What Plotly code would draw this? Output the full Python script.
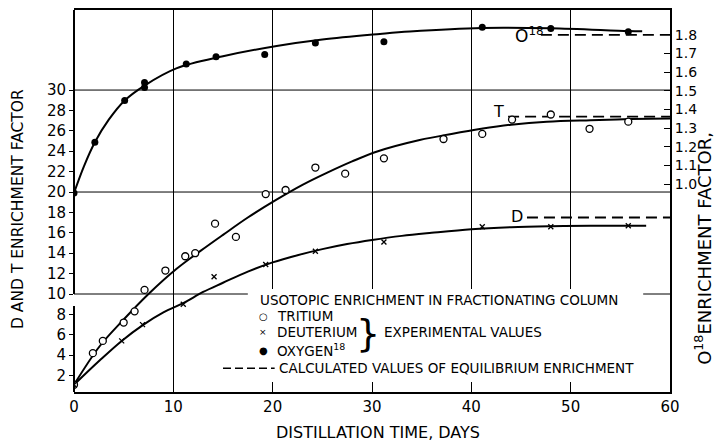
import plotly.graph_objects as go

# ---------------- data ----------------
# Tritium (open circles), left axis
t_days = [0, 1.9, 2.9, 5.0, 6.1, 7.1, 9.2, 11.2, 12.2, 14.2, 16.3, 19.3, 21.3, 24.3, 27.3, 31.2,
          37.2, 41.1, 44.1, 48.0, 51.9, 55.8]
t_vals = [1.1, 4.2, 5.4, 7.2, 8.3, 10.4, 12.3, 13.7, 14.0, 16.9, 15.6, 19.8, 20.2, 22.4, 21.8, 23.3,
          25.2, 25.7, 27.1, 27.6, 26.2, 26.9]
# Tritium fitted curve
t_fit_days = [0, 2.6, 5, 7.5, 10.3, 12.7, 15, 17.5, 20.3, 23, 25.5, 28, 30.6, 34.8, 38, 41, 44, 47.6, 52, 56, 60]
t_fit_vals = [1.1, 4.9, 7.5, 10.0, 12.45, 14.2, 15.8, 17.5, 19.2, 20.7, 21.9, 23.0, 24.0, 25.1, 25.7,
              26.2, 26.6, 26.9, 27.05, 27.15, 27.2]

# Deuterium (crosses), left axis
d_days = [0, 4.8, 6.9, 11.0, 14.1, 19.3, 24.3, 31.2, 41.1, 48.0, 55.8]
d_vals = [1.1, 5.4, 7.0, 9.0, 11.7, 12.9, 14.2, 15.1, 16.6, 16.6, 16.7]
# Deuterium fitted curve
d_fit_days = [0, 2.6, 4.8, 7, 9, 11, 13, 15, 17.5, 20, 22.5, 25, 27.5, 30, 33, 36, 40, 44, 48, 52, 57.6]
d_fit_vals = [1.1, 3.5, 5.4, 7.0, 8.2, 9.1, 10.2, 11.1, 12.2, 13.1, 13.8, 14.4, 14.9, 15.3, 15.7, 16.0,
              16.35, 16.55, 16.65, 16.7, 16.7]

# Oxygen-18 (filled circles), right axis
o_days = [0, 2.1, 5.1, 7.1, 7.1, 11.3, 14.3, 19.2, 24.3, 31.2, 41.1, 48.0, 55.8]
o_vals = [0.952, 1.224, 1.448, 1.544, 1.517, 1.644, 1.683, 1.695, 1.756, 1.763, 1.841, 1.834, 1.816]
# Oxygen-18 fitted curve
o_fit_days = [0, 1, 2.1, 3.5, 5.1, 7.1, 10.3, 15, 20.4, 25, 30.8, 33.8, 41.1, 48, 55.8, 57.2]
o_fit_vals = [0.952, 1.095, 1.224, 1.345, 1.448, 1.528, 1.62, 1.685, 1.74, 1.775, 1.805, 1.818, 1.837,
              1.835, 1.82, 1.819]

# Calculated equilibrium enrichment (dashed)
eq_t_days = [43.7, 60]
eq_t_vals = [27.4, 27.4]
eq_d_days = [45.6, 60]
eq_d_vals = [17.5, 17.5]
eq_o_days = [47.0, 60]
eq_o_vals = [1.8, 1.8]

# axes ticks
x_ticks = [0, 10, 20, 30, 40, 50, 60]
left_ticks = [2, 4, 6, 8, 10, 12, 14, 16, 18, 20, 22, 24, 26, 28, 30]
right_ticks = [1.0, 1.1, 1.2, 1.3, 1.4, 1.5, 1.6, 1.7, 1.8]
grid_left = [10, 20, 30]

FONT = "DejaVu Sans"
DASH = "11px,6px"

fig = go.Figure()

# fitted curves
fig.add_trace(go.Scatter(x=t_fit_days, y=t_fit_vals, mode="lines", line=dict(color="black", width=2, shape="spline")))
fig.add_trace(go.Scatter(x=d_fit_days, y=d_fit_vals, mode="lines", line=dict(color="black", width=2, shape="spline")))
fig.add_trace(go.Scatter(x=o_fit_days, y=o_fit_vals, mode="lines", yaxis="y2",
                         line=dict(color="black", width=2, shape="spline")))
# equilibrium lines
fig.add_trace(go.Scatter(x=eq_t_days, y=eq_t_vals, mode="lines", line=dict(color="black", width=1.8, dash=DASH)))
fig.add_trace(go.Scatter(x=eq_d_days, y=eq_d_vals, mode="lines", line=dict(color="black", width=1.8, dash=DASH)))
fig.add_trace(go.Scatter(x=eq_o_days, y=eq_o_vals, mode="lines", yaxis="y2",
                         line=dict(color="black", width=1.8, dash=DASH)))
# points
fig.add_trace(go.Scatter(x=t_days, y=t_vals, mode="markers",
                         marker=dict(symbol="circle", size=7, color="white", line=dict(color="black", width=1.3))))
fig.add_trace(go.Scatter(x=d_days, y=d_vals, mode="markers",
                         marker=dict(symbol="x-thin", size=5, color="black", line=dict(color="black", width=1.3))))
fig.add_trace(go.Scatter(x=o_days, y=o_vals, mode="markers", yaxis="y2",
                         marker=dict(symbol="circle", size=7, color="black")))
# legend dashed sample
fig.add_trace(go.Scatter(x=[15.0, 20.2], y=[2.73, 2.73], mode="lines",
                         line=dict(color="black", width=1.5, dash="8px,4px")))

shapes = []
for g in grid_left:
    shapes.append(dict(type="line", xref="paper", yref="y", x0=0, x1=1, y0=g, y1=g,
                       line=dict(color="black", width=1), layer="between"))
# white legend area
shapes.append(dict(type="rect", xref="x", yref="y", x0=17.5, x1=57.3, y0=1.37, y1=10.5,
                   fillcolor="white", line=dict(width=0), layer="between"))
# left axis line with break
shapes.append(dict(type="line", xref="paper", yref="paper", x0=0, x1=0, y0=0, y1=0.225,
                   line=dict(color="black", width=2)))
shapes.append(dict(type="line", xref="paper", yref="y", x0=0, x1=0, y0=10, y1=37.85,
                   line=dict(color="black", width=2)))

ann = []
def txt(x, y, s, size=11, xanchor="left", yanchor="middle", xref="x", yref="y", angle=0):
    ann.append(dict(x=x, y=y, text=s, xref=xref, yref=yref, showarrow=False, xanchor=xanchor,
                    yanchor=yanchor, textangle=angle, font=dict(family=FONT, size=size, color="black")))

LG = 13.5
txt(18.5, 9.37, "USOTOPIC ENRICHMENT IN FRACTIONATING COLUMN", LG)
txt(18.4, 7.8, "○", 10)
txt(20.2, 7.8, "TRITIUM", LG)
txt(18.4, 6.24, "×", 9)
txt(20.2, 6.24, "DEUTERIUM", LG)
txt(18.4, 4.49, "●", 10)
txt(20.2, 4.49, "OXYGEN<sup>18</sup>", LG)
txt(29.6, 6.15, "}", 38, xanchor="center")
txt(31.0, 6.24, "EXPERIMENTAL VALUES", LG)
txt(20.4, 2.73, "CALCULATED VALUES OF EQUILIBRIUM ENRICHMENT", LG)
# curve labels
txt(45.9, 35.4, "O<sup>18</sup>", 17, xanchor="center")
txt(42.7, 27.9, "T", 16, xanchor="center")
txt(44.6, 17.6, "D", 16, xanchor="center")
# axis titles
txt(-0.094, 0.479, "D AND T ENRICHMENT FACTOR", 15.5, xanchor="center", xref="paper", yref="paper", angle=-90)
txt(1.0555, 0.375, "O<sup>18</sup>ENRICHMENT FACTOR,", 18, xanchor="center", xref="paper", yref="paper", angle=-90)
txt(0.51, -0.105, "DISTILLATION TIME, DAYS", 16, xanchor="center", xref="paper", yref="paper")

# the page adds an 8 px body margin, so the figure is 8 px smaller and its margins are shifted
fig.update_layout(
    width=716, height=434,
    margin=dict(l=66, r=54, t=0, b=50),
    paper_bgcolor="white", plot_bgcolor="white",
    showlegend=False,
    font=dict(family=FONT, color="black"),
    shapes=shapes, annotations=ann,
    xaxis=dict(range=[0, 60], tickvals=x_ticks, ticks="inside", ticklen=10, tickcolor="black",
               showgrid=True, gridcolor="black", gridwidth=1, showline=True, linecolor="black",
               linewidth=2, mirror=True, zeroline=False, tickfont=dict(size=15)),
    yaxis=dict(range=[0.39, 37.85], tickvals=left_ticks, ticks="outside", ticklen=4, tickcolor="black",
               showgrid=False, showline=False, zeroline=False, tickfont=dict(size=15)),
    yaxis2=dict(range=[-0.1147, 1.933], overlaying="y", side="right", tickvals=right_ticks,
                tickformat=".1f", ticks="inside", ticklen=6, tickcolor="black", showgrid=False,
                showline=True, linecolor="black", linewidth=2, zeroline=False, tickfont=dict(size=14)),
)

fig.write_html("out.html")
